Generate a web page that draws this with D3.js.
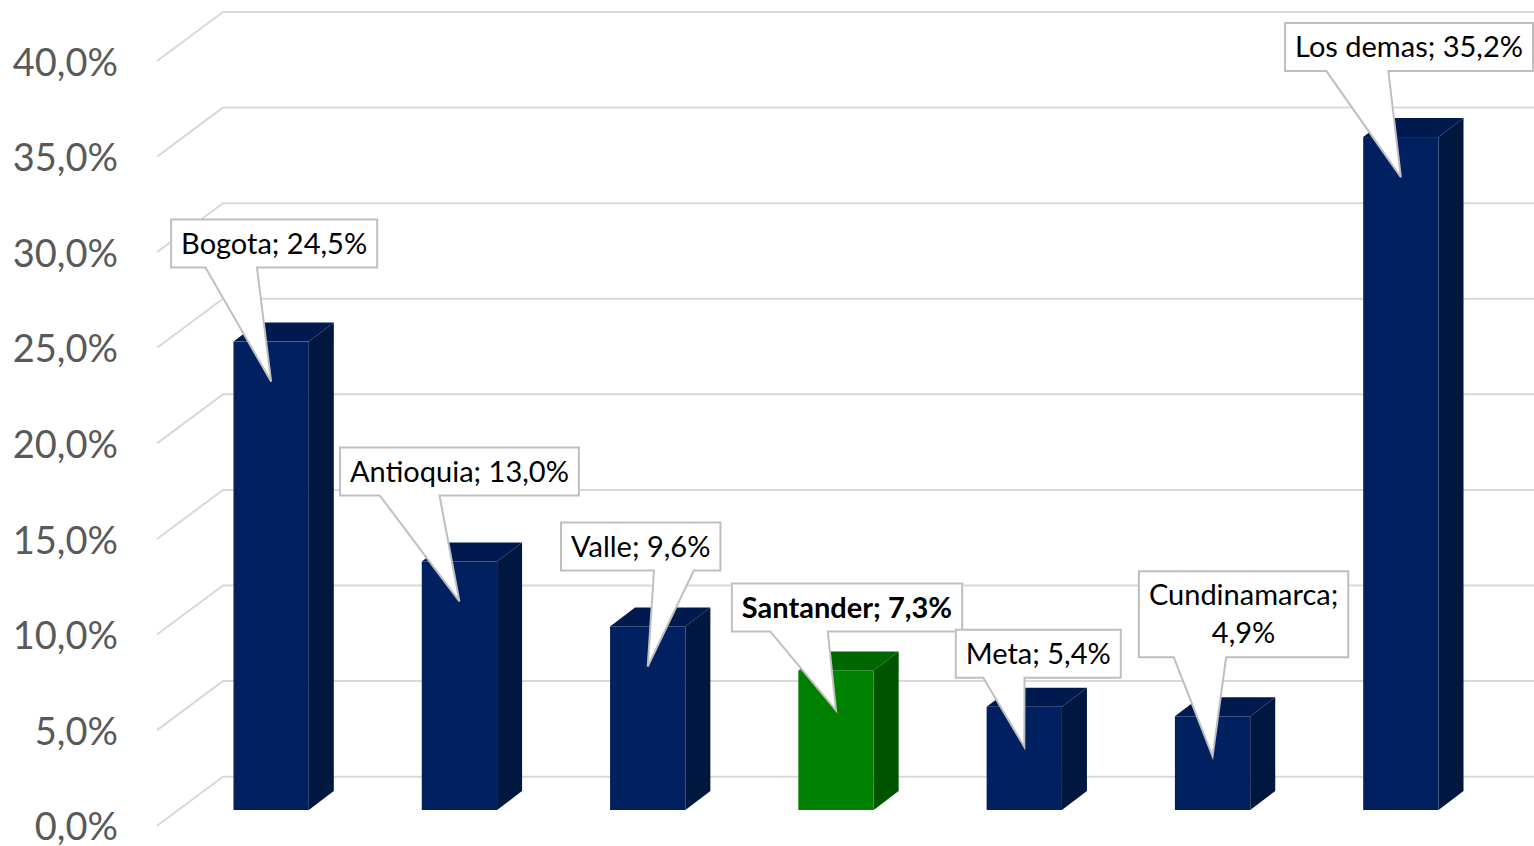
<!DOCTYPE html>
<html lang="es">
<head>
<meta charset="UTF-8">
<title>Participacion por departamento</title>
<script src="https://cdn.jsdelivr.net/npm/d3@7"></script>
<style>
    html,body{margin:0;padding:0;background:#fff;}
    svg{display:block;}
</style>
</head>
<body>
<svg id="chart" width="1534" height="846"></svg>
<script>
// datos
const categories = ["Bogota", "Antioquia", "Valle", "Santander", "Meta", "Cundinamarca", "Los demas"];
const values = [24.5, 13.0, 9.6, 7.3, 5.4, 4.9, 35.2];
const highlighted = ["Santander"];
const wrapLabels = ["Cundinamarca"];
const yTicks = [0, 5, 10, 15, 20, 25, 30, 35, 40];

// donde queda cada globo respecto a la punta: [dx centro, alto sobre la punta]
const calloutPos = [[3, 114], [0, 106], [-7, 96], [11, 79], [14, 69], [31, 99], [9, 106]];

const W = 1534, H = 846;
const svg = d3.select("#chart");
const fmt = v => v.toFixed(1).replace(".", ",") + "%";

const y = d3.scaleLinear().domain([0, 40]).range([825.7, 61]);   // plano frontal del piso
const x = d3.scaleBand().domain(categories).range([177, 1495]).paddingInner(0.6).paddingOuter(0.3);

const wall = {dx: 66, dy: -49};     // pared del fondo
const barShift = -15.7;              // cara frontal de las barras
const depth = {dx: 25, dy: -19};     // profundidad de la barra

// lineas de la cuadricula
const grid = svg.append("g").attr("stroke", "#d9d9d9").attr("stroke-width", 2).attr("fill", "none");
grid.selectAll("path").data(yTicks).join("path")
    .attr("d", d => `M157,${y(d)}L${157 + wall.dx},${y(d) + wall.dy}H${W}`);

// eje y
const axis = svg.append("g")
    .attr("transform", "translate(157,2)")
    .call(d3.axisLeft(y).tickValues(yTicks).tickFormat(fmt).tickSize(0).tickPadding(39));
axis.select(".domain").remove();
axis.selectAll("text")
    .attr("font-family", "Lato, 'Noto Sans', sans-serif")
    .attr("font-size", 38)
    .attr("fill", "#595959");

// barras
const colors = {
    normal: {front: "#002060", side: "#00173f", top: "#001a4f"},
    hi: {front: "#008000", side: "#005400", top: "#006600"}
};
const data = categories.map((c, i) => ({cat: c, val: values[i], idx: i}));
const y0 = y(0) + barShift;

const bars = svg.append("g").selectAll("g").data(data).join("g");
bars.each(function (d) {
    const g = d3.select(this);
    const col = highlighted.includes(d.cat) ? colors.hi : colors.normal;
    const x0 = x(d.cat), bw = x.bandwidth();
    const yt = y(d.val) + barShift;
    g.append("path")
        .attr("d", `M${x0 + bw},${yt}L${x0 + bw + depth.dx},${yt + depth.dy}V${y0 + depth.dy}L${x0 + bw},${y0}Z`)
        .attr("fill", col.side);
    g.append("path")
        .attr("d", `M${x0},${yt}L${x0 + depth.dx},${yt + depth.dy}H${x0 + bw + depth.dx}L${x0 + bw},${yt}Z`)
        .attr("fill", col.top);
    g.append("rect")
        .attr("x", x0).attr("y", yt)
        .attr("width", bw).attr("height", y0 - yt)
        .attr("fill", col.front);
});

// etiquetas tipo globo
const lineH = 38, padX = 10;
const labels = svg.append("g").selectAll("g").data(data).join("g");
labels.each(function (d) {
    const g = d3.select(this);
    const bold = highlighted.includes(d.cat);
    const lines = wrapLabels.includes(d.cat) ? [d.cat + ";", fmt(d.val)] : [d.cat + "; " + fmt(d.val)];
    const tipX = x(d.cat) + x.bandwidth() / 2;
    const tipY = y(d.val) + barShift + 40;
    const pos = calloutPos[d.idx];

    const path = g.append("path");
    const txt = g.append("text")
        .attr("font-family", "Lato, 'Noto Sans', sans-serif")
        .attr("font-size", 29)
        .attr("font-weight", bold ? "bold" : "normal")
        .attr("fill", "#000")
        .attr("text-anchor", "middle");
    const spans = txt.selectAll("tspan").data(lines).join("tspan").attr("x", 0).text(t => t);
    let tw = 0;
    spans.each(function () { tw = Math.max(tw, this.getComputedTextLength()); });

    const bwid = tw + 2 * padX, bh = lines.length * lineH + 10;
    let cx = tipX + pos[0];
    let left = cx - bwid / 2;
    if (left + bwid > W - 1) left = W - 1 - bwid;
    cx = left + bwid / 2;
    const bottom = tipY - pos[1], top = bottom - bh, right = left + bwid;

    let b1, b2;
    if (tipX > cx) { b1 = left + bwid * 7 / 12; b2 = left + bwid * 5 / 6; }
    else { b1 = left + bwid / 6; b2 = left + bwid * 5 / 12; }

    path.attr("d", `M${left},${top}H${right}V${bottom}H${b2}L${tipX},${tipY}L${b1},${bottom}H${left}Z`)
        .attr("fill", "#fff")
        .attr("stroke", "#bfbfbf")
        .attr("stroke-width", 2);

    spans.attr("x", cx)
        .attr("y", (t, i) => top + 5 + lineH * i + lineH / 2)
        .attr("dy", "0.35em");
});
</script>
</body>
</html>
